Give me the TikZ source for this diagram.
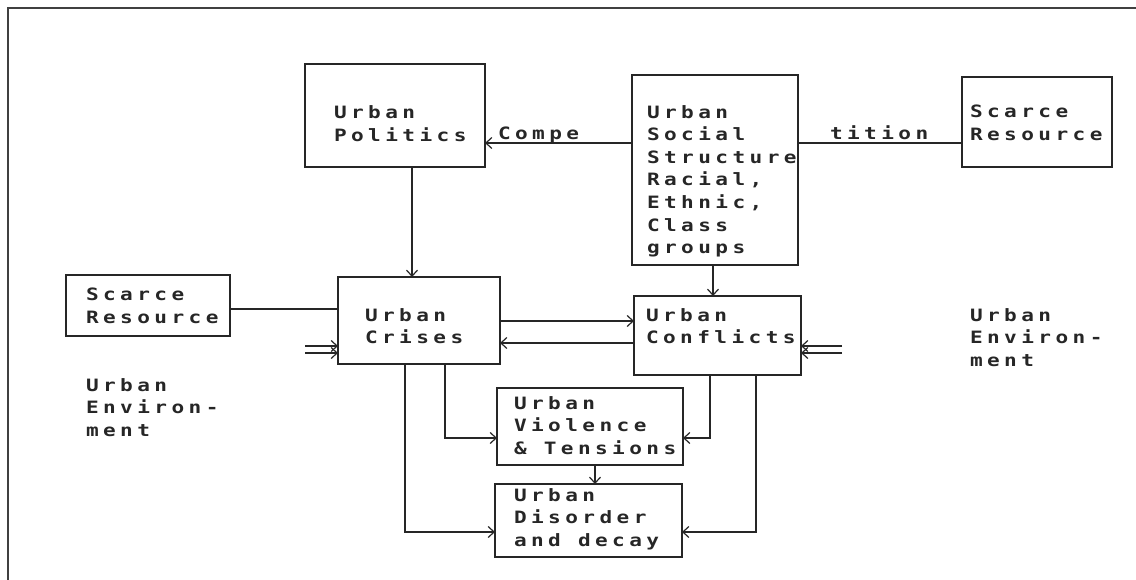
\documentclass[tikz,border=0pt]{standalone}
\usepackage{fontspec}
\usetikzlibrary{arrows.meta}
\newfontfamily\dotfont[FakeStretch=1.24,LetterSpace=26]{DejaVu Sans Mono}
\newcommand\firstln{\rule{0pt}{15pt}}
\tikzset{
  box/.style={draw=black!85, line width=1.4pt, rectangle, inner sep=0pt, outer sep=0pt, anchor=north west},
  txt/.style={inner sep=0pt, outer sep=0pt, align=left, anchor=north west, text=black!85,
    font=\dotfont\bfseries\fontsize{17}{22.6}\selectfont},
  lbl/.style={inner sep=0pt, outer sep=0pt, anchor=base west, text=black!85,
    font=\dotfont\bfseries\fontsize{17}{22.6}\selectfont},
  conn/.style={draw=black!85, line width=1.2pt},
  arr/.style={conn, -{Straight Barb[length=6pt,width=11pt]}},
  frame/.style={draw=black!75, line width=2pt}
}
\begin{document}
\begin{tikzpicture}[x=1pt,y=-1pt]
\useasboundingbox (0,0) rectangle (1136,580);
\draw[frame] (8,580) -- (8,8) -- (1136,8);

% boxes
\node[box, minimum width=180pt, minimum height=103pt] (pol) at (305,64) {};
\node[box, minimum width=166pt, minimum height=190pt] (soc) at (632,75) {};
\node[box, minimum width=150pt, minimum height=90pt] (srr) at (962,77) {};
\node[box, minimum width=164pt, minimum height=61pt] (srl) at (66,275) {};
\node[box, minimum width=162pt, minimum height=87pt] (cri) at (338,277) {};
\node[box, minimum width=167pt, minimum height=79pt] (con) at (634,296) {};
\node[box, minimum width=186pt, minimum height=77pt] (vio) at (497,388) {};
\node[box, minimum width=187pt, minimum height=73pt] (dis) at (495,484) {};

% texts
\node[txt] (polt) at (334,104) {\firstln Urban\\Politics};
\node[txt] (soct) at (647,103) {\firstln Urban\\Social\\Structure\\Racial,\\Ethnic,\\Class\\groups};
\node[txt] (srrt) at (970,103) {\firstln Scarce\\Resource};
\node[txt] (srlt) at (86,286) {\firstln Scarce\\Resource};
\node[txt] (crit) at (365,306) {\firstln Urban\\Crises};
\node[txt] (cont) at (646,306) {\firstln Urban\\Conflicts};
\node[txt] (viot) at (514,394) {\firstln Urban\\Violence\\\&~Tensions};
\node[txt] (dist) at (514,486) {\firstln Urban\\Disorder\\and decay};
\node[txt] (envl) at (86,376) {\firstln Urban\\Environ-\\ment};
\node[txt] (envr) at (970,306) {\firstln Urban\\Environ-\\ment};
\node[lbl] (compe) at (498,140) {Compe};
\node[lbl] (tition) at (830,140) {tition};

% helper coordinates
\coordinate (h143) at (0,143);
\coordinate (h309) at (0,309);
\coordinate (h321) at (0,321);
\coordinate (h343) at (0,343);
\coordinate (h438) at (0,438);
\coordinate (h532) at (0,532);
\coordinate (v412) at (412,0);
\coordinate (v713) at (713,0);
\coordinate (v445) at (445,0);
\coordinate (v710) at (710,0);
\coordinate (v595) at (595,0);
\coordinate (v405) at (405,0);
\coordinate (v756) at (756,0);
\coordinate (ela) at (305,346);
\coordinate (elb) at (305,353);
\coordinate (era) at (842,346);
\coordinate (erb) at (842,353);

% connectors
\draw[arr] (soc.west |- h143) -- (pol.east |- h143);
\draw[conn] (soc.east |- h143) -- (srr.west |- h143);
\draw[arr] (v412 |- pol.south) -- (v412 |- cri.north);
\draw[arr] (v713 |- soc.south) -- (v713 |- con.north);
\draw[conn] (srl.east |- h309) -- (cri.west |- h309);
\draw[arr] (cri.east |- h321) -- (con.west |- h321);
\draw[arr] (con.west |- h343) -- (cri.east |- h343);
\draw[arr] (ela) -- (cri.west |- ela);
\draw[arr] (elb) -- (cri.west |- elb);
\draw[arr] (era) -- (con.east |- era);
\draw[arr] (erb) -- (con.east |- erb);
\draw[arr] (v445 |- cri.south) -- (v445 |- h438) -- (vio.west |- h438);
\draw[arr] (v710 |- con.south) -- (v710 |- h438) -- (vio.east |- h438);
\draw[arr] (v595 |- vio.south) -- (v595 |- dis.north);
\draw[arr] (v405 |- cri.south) -- (v405 |- h532) -- (dis.west |- h532);
\draw[arr] (v756 |- con.south) -- (v756 |- h532) -- (dis.east |- h532);
\end{tikzpicture}
\end{document}
